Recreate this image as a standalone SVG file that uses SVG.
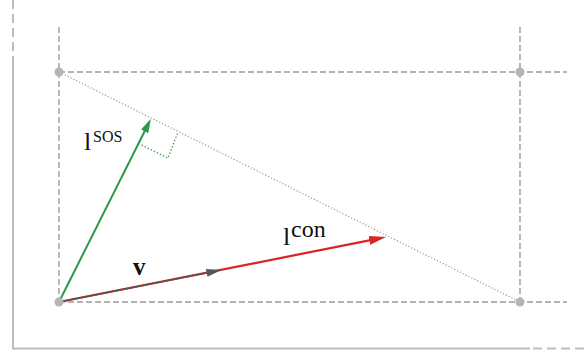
<svg xmlns="http://www.w3.org/2000/svg" width="584" height="358" viewBox="0 0 584 358">
<style>
.axis{stroke:#bdbdbd;stroke-width:2;fill:none}
.axisd{stroke:#bdbdbd;stroke-width:2;fill:none;stroke-dasharray:9 5}
.guide{stroke:#9a9a9a;stroke-width:1.4;fill:none;stroke-dasharray:6 3}
.dot{stroke:#999;stroke-width:1.2;fill:none;stroke-dasharray:1.2 2}
.rt{stroke:#2a9a4a;stroke-width:1.2;fill:none;stroke-dasharray:1.4 2}
.pt{fill:#b5b5b5}
.lab{font-family:"Liberation Serif","Times New Roman",serif;fill:#111}
.l{font-family:"Liberation Serif","Times New Roman",serif;font-size:26px}
.b{font-family:"Liberation Serif","Times New Roman",serif;font-weight:bold;font-size:25px}
.sup{font-family:"Liberation Serif","Times New Roman",serif;font-size:24px}
.sc{font-family:"Liberation Serif","Times New Roman",serif;font-size:16px}
</style>
<defs>
<marker id="ah-green" markerUnits="userSpaceOnUse" markerWidth="20" markerHeight="12" viewBox="0 0 20 12" refX="6" refY="6" orient="auto"><path d="M0,2 L14,6 L0,10 z" fill="#2a9a4a"/></marker>
<marker id="ah-red" markerUnits="userSpaceOnUse" markerWidth="20" markerHeight="12" viewBox="0 0 20 12" refX="9" refY="6" orient="auto"><path d="M0,1.5 L17,6 L0,10.5 z" fill="#dd2222"/></marker>
<marker id="ah-gray" markerUnits="userSpaceOnUse" markerWidth="20" markerHeight="12" viewBox="0 0 20 12" refX="7" refY="6" orient="auto"><path d="M0,2 L15,6 L0,10 z" fill="#555"/></marker>
</defs>
<g id="frame">
<line class="axisd" x1="13" y1="0" x2="13" y2="62"/>
<polyline class="axis" points="13,62 13,348.5 530,348.5"/>
<line class="axisd" x1="533" y1="348.5" x2="584" y2="348.5"/>
</g>
<g id="guides">
<line class="guide" x1="59" y1="27" x2="59" y2="302"/>
<line class="guide" x1="520" y1="27" x2="520" y2="302"/>
<line class="guide" x1="59" y1="72" x2="567" y2="72"/>
<line class="guide" x1="59" y1="302" x2="567" y2="302"/>
<line class="dot" x1="59" y1="72" x2="520" y2="302"/>
<polyline class="rt" points="141.5,145 168,158 178,132"/>
</g>
<g id="connectors">
<line id="l-con" x1="59" y1="302" x2="378.2" y2="238.6" stroke="#dd2222" stroke-width="2.2" marker-end="url(#ah-red)"/>
<line id="v" x1="59" y1="302" x2="213.6" y2="271.5" stroke="#555" stroke-width="1.3" marker-end="url(#ah-gray)"/>
<line id="l-sos" x1="59" y1="302" x2="147.3" y2="126" stroke="#2a9a4a" stroke-width="2" marker-end="url(#ah-green)"/>
</g>
<g id="p-tl"><circle class="pt" cx="59" cy="72" r="4.5"/></g>
<g id="p-tr"><circle class="pt" cx="520" cy="72" r="4.5"/></g>
<g id="p-bl"><circle class="pt" cx="59" cy="302" r="4.5"/></g>
<g id="p-br"><circle class="pt" cx="520" cy="302" r="4.5"/></g>
<g id="label-sos"><text class="lab" x="84" y="150"><tspan class="l">l</tspan><tspan class="sc" x="93" y="142">SOS</tspan></text></g>
<g id="label-con"><text class="lab" x="283" y="245"><tspan class="l">l</tspan><tspan class="sup" x="291" y="237">con</tspan></text></g>
<g id="label-v"><text class="lab b" x="133" y="275">v</text></g>
</svg>
